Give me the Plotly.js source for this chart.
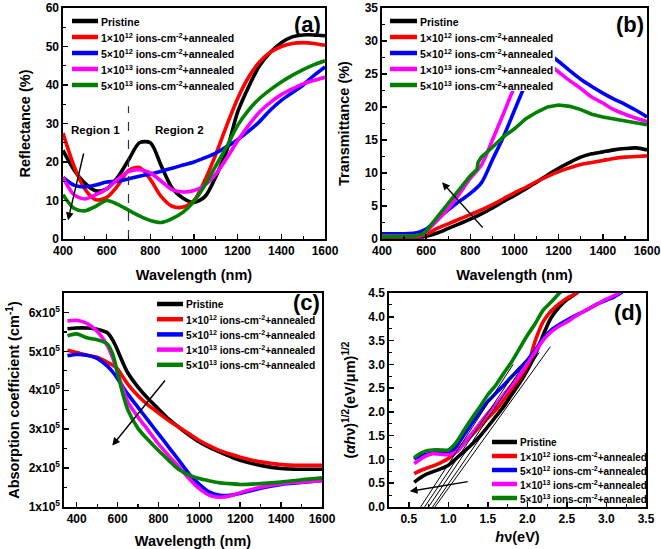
<!DOCTYPE html>
<html>
<head>
<meta charset="utf-8">
<script src="https://cdn.plot.ly/plotly-3.0.1.min.js"></script>
<style>html,body{margin:0;padding:0;background:#fff;}#chart{width:661px;height:549px;}</style>
</head>
<body>
<div id="chart"></div>
<script>
// ---------- shared ----------
const seriesNames = [
  'Pristine',
  '1×10<sup>12</sup> ions-cm<sup>-2</sup>+annealed',
  '5×10<sup>12</sup> ions-cm<sup>-2</sup>+annealed',
  '1×10<sup>13</sup> ions-cm<sup>-2</sup>+annealed',
  '5×10<sup>13</sup> ions-cm<sup>-2</sup>+annealed'
];
const seriesColors = ['#000000', '#ff0000', '#0000ff', '#ff00ff', '#008000'];

// ---------- (a) Reflectance ----------
const wlA = [400,450,500,550,600,650,700,750,800,850,900,950,1000,1050,1100,1150,1200,1250,1300,1350,1400,1450,1500,1550,1600];
const reflPristine = [23,18,14.5,12.5,13,16,20.5,25,25,19,13.2,10.6,9.5,11,16.2,23,33,39.5,45,48.5,51,52.5,53,53,52.8];
const refl1e12 = [27.5,19,13,10.2,10.8,13.8,17.8,18.6,15.5,11,8.5,8.3,10,15.3,22,29.5,36.5,42,46,48.5,50,50.8,51,50.8,50.3];
const refl5e12 = [16,14,13.5,14,14.8,15,15.6,16.3,16.9,17.6,18.4,19.2,20,21.1,22.3,24,25.8,28,30.5,33.5,36,38,40,42.5,44.7];
const refl1e13 = [16,11.5,10.4,11.5,13,15.5,17.5,18,17.2,15,12.8,12.2,12.6,14,16.9,21,25.5,29.5,33,35.5,37.5,39,40.3,41.2,42];
const refl5e13 = [11.5,8,7.3,8.5,10,9,7.5,6,4.8,4.3,5.3,7,9.8,14,19,24,29.5,33.5,36.5,38.8,40.8,42.5,44,45.3,46.3];
const regionBoundaryNm = 700, regionLineTop = 34.5;
const regionLabels = ['Region 1', 'Region 2'];
const regionLabelX = [547, 933], regionLabelY = 28.3;
const arrowA = {tailX: 496, tailY: 22.6, tipX: 423, tipY: 4.9};

// ---------- (b) Transmittance ----------
const wlB = [400,450,500,550,580,600,650,700,750,800,850,900,950,1000,1050,1100,1150,1200,1250,1300,1350,1400,1450,1500,1550,1600];
const transPristine = [0.3,0.3,0.3,0.3,0.3,0.4,0.9,1.6,2.3,3.0,3.8,4.7,5.7,6.6,7.6,8.6,9.7,10.7,11.6,12.4,12.9,13.2,13.5,13.7,13.8,13.5];
const trans1e12 = [0.4,0.4,0.4,0.4,0.5,0.7,1.6,2.3,3.0,3.7,4.4,5.2,6.1,7.0,7.8,8.7,9.5,10.2,10.8,11.3,11.6,11.9,12.2,12.4,12.5,12.6];
const trans5e12 = [0.8,0.8,0.8,0.9,1.2,1.5,3.0,4.4,5.7,6.9,8.5,12,15.5,19.5,23.5,27,28,26.9,25.5,24.2,23.1,22.1,21.2,20.4,19.5,18.5];
const trans1e13 = [0.5,0.5,0.5,0.5,0.6,1.1,2.8,4.6,6.8,9.2,11.2,15,19,23,25.8,27,26.6,25.3,24,22.8,21.5,20.6,19.6,18.9,18.3,17.8];
const wlB5e13 = [400,450,500,550,580,600,650,700,750,800,825,830,835,850,900,950,1000,1050,1100,1150,1200,1250,1300,1350,1400,1450,1500,1550,1600];
const trans5e13 = [0.4,0.4,0.4,0.5,0.7,1.2,3.3,5.4,7.4,9.6,10.4,10.5,11.6,12.4,13.9,15.5,16.7,18.2,19.2,20,20.3,20.1,19.6,18.9,18.5,18.2,17.9,17.6,17.3];
const arrowB = {tailX: 862, tailY: 1.5, tipX: 672, tipY: 8.6};

// ---------- (c) Absorption coefficient ----------
const wlC = [355,400,450,500,550,575,600,625,650,700,750,800,850,900,950,1000,1050,1100,1150,1200,1300,1400,1500,1600];
const absPristine = [5.58e5,5.6e5,5.6e5,5.57e5,5.48e5,5.3e5,5.03e5,4.72e5,4.45e5,4.08e5,3.78e5,3.52e5,3.26e5,3.05e5,2.85e5,2.67e5,2.53e5,2.41e5,2.3e5,2.2e5,2.07e5,1.99e5,1.97e5,1.97e5];
const abs1e12 = [5.03e5,4.97e5,4.9e5,4.85e5,4.72e5,4.65e5,4.55e5,4.35e5,4.16e5,3.86e5,3.62e5,3.42e5,3.22e5,3.05e5,2.88e5,2.71e5,2.57e5,2.45e5,2.36e5,2.28e5,2.16e5,2.09e5,2.07e5,2.07e5];
const abs5e12 = [4.89e5,4.92e5,4.9e5,4.82e5,4.62e5,4.48e5,4.3e5,4.1e5,3.9e5,3.56e5,3.22e5,2.88e5,2.54e5,2.2e5,1.85e5,1.58e5,1.38e5,1.3e5,1.3e5,1.35e5,1.48e5,1.58e5,1.63e5,1.68e5];
const abs1e13 = [5.78e5,5.8e5,5.72e5,5.52e5,5.15e5,4.85e5,4.45e5,4.05e5,3.7e5,3.31e5,2.97e5,2.62e5,2.32e5,2.03e5,1.73e5,1.47e5,1.3e5,1.25e5,1.28e5,1.37e5,1.51e5,1.6e5,1.64e5,1.67e5];
const abs5e13 = [5.4e5,5.45e5,5.35e5,5.3e5,5.19e5,4.95e5,4.45e5,3.92e5,3.5e5,3.02e5,2.72e5,2.45e5,2.2e5,1.96e5,1.82e5,1.73e5,1.67e5,1.62e5,1.6e5,1.58e5,1.6e5,1.64e5,1.7e5,1.75e5];
const absTickVals = [1e5,2e5,3e5,4e5,5e5,6e5];
const absTickText = ['1x10<sup>5</sup>','2x10<sup>5</sup>','3x10<sup>5</sup>','4x10<sup>5</sup>','5x10<sup>5</sup>','6x10<sup>5</sup>'];
const arrowC = {tailX: 838, tailY: 4.29e5, tipX: 574, tipY: 2.58e5};

// ---------- (d) Tauc plot ----------
const hv = [0.57,0.6,0.7,0.8,0.9,1.0,1.1,1.2,1.3,1.4,1.5,1.6,1.7,1.8,1.9,2.0,2.1,2.2,2.3,2.4,2.5,2.6,2.7,2.8,2.9,3.0,3.1,3.2];
const taucPristine = [0.52,0.56,0.67,0.74,0.8,0.88,1.02,1.17,1.32,1.49,1.69,1.9,2.11,2.36,2.6,2.88,3.2,3.62,3.98,4.2,4.36,4.47,4.62,null,null,null,null,null];
const tauc1e12 = [0.7,0.73,0.8,0.86,0.93,1.02,1.17,1.34,1.52,1.69,1.87,2.04,2.25,2.46,2.67,2.95,3.5,3.9,4.12,4.27,4.39,4.48,4.6,null,null,null,null,null];
const tauc5e12 = [1.0,1.04,1.1,1.13,1.15,1.13,1.27,1.52,1.76,2.0,2.22,2.39,2.56,2.74,2.91,3.09,3.3,3.54,3.72,3.83,3.93,4.02,4.1,4.19,4.28,4.35,4.42,4.52];
const tauc1e13 = [0.91,0.95,1.06,1.12,1.11,1.1,1.15,1.34,1.55,1.76,1.97,2.15,2.36,2.56,2.77,3.02,3.26,3.51,3.68,3.8,3.89,4.0,4.1,4.19,4.28,4.37,4.45,4.54];
const tauc5e13 = [1.03,1.08,1.17,1.2,1.2,1.2,1.36,1.62,1.87,2.11,2.36,2.56,2.81,3.05,3.33,3.61,3.86,4.14,4.31,4.49,4.65,null,null,null,null,null,null,null];
// linear-fit tangent lines: x-intercept (band gap) and upper end point
const gapIntercepts = [0.65, 0.70, 0.75, 0.80, 0.83];
const fitEndX = [1.82, 1.85, 2.0, 2.15, 2.29];
const fitEndY = [3.0, 2.85, 3.1, 3.25, 3.37];
const arrowD = {tailX: 1.265, tailY: 0.54, tipX: 0.513, tipY: 0.33};

// ---------- build traces ----------
const traces = [];
function addSeries(xs, ys, i, xa, ya, shape) {
  traces.push({
    x: xs, y: ys, name: seriesNames[i], type: 'scatter', mode: 'lines',
    xaxis: xa, yaxis: ya, showlegend: false,
    line: {color: seriesColors[i], width: 3.6, shape: shape || 'spline', smoothing: 0.8},
    connectgaps: false
  });
}
[reflPristine, refl1e12, refl5e12, refl1e13, refl5e13].forEach((s, i) => addSeries(wlA, s, i, 'x', 'y'));
traces.push({x: [regionBoundaryNm, regionBoundaryNm], y: [0, regionLineTop], mode: 'lines', xaxis: 'x', yaxis: 'y',
  line: {color: '#333', width: 1.2, dash: 'dash'}, showlegend: false, hoverinfo: 'skip'});

[transPristine, trans1e12, trans5e12, trans1e13].forEach((s, i) => addSeries(wlB, s, i, 'x2', 'y2'));
addSeries(wlB5e13, trans5e13, 4, 'x2', 'y2', 'linear');

[absPristine, abs1e12, abs5e12, abs1e13, abs5e13].forEach((s, i) => addSeries(wlC, s, i, 'x3', 'y3'));

[taucPristine, tauc1e12, tauc5e12, tauc1e13, tauc5e13].forEach((s, i) => addSeries(hv, s, i, 'x4', 'y4'));
gapIntercepts.forEach((g, k) => {
  traces.push({x: [g, fitEndX[k]], y: [0, fitEndY[k]], mode: 'lines', xaxis: 'x4', yaxis: 'y4',
    line: {color: '#000', width: 1}, showlegend: false, hoverinfo: 'skip'});
});

// ---------- layout helpers ----------
const W = 661, H = 549;
const FONT = 'Arial, "Liberation Sans", sans-serif';
const px = v => v / W, py = v => 1 - v / H;
function minorSpec(extra) {
  return Object.assign({ticks: 'inside', ticklen: 3, tickwidth: 1.2, tickcolor: '#000', showgrid: false}, extra);
}
function axis(extra) {
  return Object.assign({
    showline: true, linecolor: '#000', linewidth: 1.6, mirror: true,
    ticks: 'inside', ticklen: 5, tickwidth: 1.5, tickcolor: '#000',
    showgrid: false, zeroline: false, automargin: false,
    tickfont: {family: FONT, size: 12, color: '#000', weight: 'bold'}
  }, extra);
}
function ttl(text, standoff) {
  return {text: text, standoff: standoff, font: {family: FONT, size: 14.5, color: '#000', weight: 'bold'}};
}
function arrow(a, xr, yr) {
  return {x: a.tipX, y: a.tipY, ax: a.tailX, ay: a.tailY, xref: xr, yref: yr, axref: xr, ayref: yr,
    text: '', showarrow: true, arrowhead: 2, arrowsize: 1.1, arrowwidth: 1.4, arrowcolor: '#000'};
}
function panelLabel(t, x, y) {
  return {text: t, xref: 'paper', yref: 'paper', x: px(x), y: py(y), xanchor: 'center', yanchor: 'middle', showarrow: false,
    font: {family: FONT, size: 22, color: '#000', weight: 'bold'}};
}

const annotations = [
  arrow(arrowA, 'x', 'y'), arrow(arrowB, 'x2', 'y2'), arrow(arrowC, 'x3', 'y3'), arrow(arrowD, 'x4', 'y4'),
  panelLabel('(a)', 307, 25), panelLabel('(b)', 630, 24), panelLabel('(c)', 306, 303), panelLabel('(d)', 628, 312)
];
regionLabels.forEach((t, k) => annotations.push({text: t, x: regionLabelX[k], y: regionLabelY, xref: 'x', yref: 'y',
  xanchor: 'center', yanchor: 'middle', showarrow: false, font: {family: FONT, size: 11.5, color: '#000', weight: 'bold'}}));

// legends drawn per panel (line sample + label), placement in pixels
const shapes = [];
// white box behind legend (b) hides the curves under it, as in the original
shapes.push({type: 'rect', xref: 'paper', yref: 'paper', x0: px(388), x1: px(555), y0: py(91), y1: py(10),
  fillcolor: '#ffffff', line: {width: 0}, layer: 'above'});
const legendBoxes = [
  {lineX0: 72, lineX1: 98, textX: 100, rowY0: 21, rowGap: 16, size: 10.5},
  {lineX0: 390, lineX1: 417, textX: 419, rowY0: 21, rowGap: 16, size: 10.5},
  {lineX0: 157, lineX1: 183, textX: 185, rowY0: 304, rowGap: 15.2, size: 10.2},
  {lineX0: 492, lineX1: 517, textX: 519, rowY0: 442, rowGap: 14, size: 10}
];
legendBoxes.forEach(b => {
  seriesNames.forEach((name, i) => {
    const yy = b.rowY0 + i * b.rowGap;
    shapes.push({type: 'line', xref: 'paper', yref: 'paper', x0: px(b.lineX0), x1: px(b.lineX1), y0: py(yy), y1: py(yy),
      line: {color: seriesColors[i], width: 4.5}, layer: 'above'});
    annotations.push({text: name, xref: 'paper', yref: 'paper', x: px(b.textX), y: py(yy + 0.5), xanchor: 'left', yanchor: 'middle',
      showarrow: false, borderpad: 0, font: {family: FONT, size: b.size, color: '#000', weight: 'bold'}});
  });
});

const layout = {
  width: W, height: H, margin: {l: 0, r: 0, t: 0, b: 0},
  paper_bgcolor: '#fff', plot_bgcolor: '#fff', showlegend: false,
  font: {family: FONT, color: '#000'},
  xaxis: axis({domain: [px(63), px(325)], range: [400, 1600], dtick: 200, tick0: 400, minor: minorSpec({dtick: 100}), title: ttl('Wavelength (nm)', 13), anchor: 'y'}),
  yaxis: axis({domain: [py(239), py(8)], range: [0, 60], dtick: 10, minor: minorSpec({dtick: 5}), title: ttl('Reflectance (%)', 11), anchor: 'x'}),
  xaxis2: axis({domain: [px(382), px(647)], range: [400, 1600], dtick: 200, tick0: 400, minor: minorSpec({dtick: 100}), title: ttl('Wavelength (nm)', 13), anchor: 'y2'}),
  yaxis2: axis({domain: [py(239), py(8)], range: [0, 35], dtick: 5, minor: minorSpec({dtick: 2.5}), title: ttl('Transmittance (%)', 11), anchor: 'x2'}),
  xaxis3: axis({domain: [px(64), px(322)], range: [338, 1600], tickvals: [400,600,800,1000,1200,1400,1600], minor: minorSpec({tickvals: [500,700,900,1100,1300,1500]}), title: ttl('Wavelength (nm)', 13), anchor: 'y3'}),
  yaxis3: axis({domain: [py(507), py(293)], range: [1e5, 6.5e5], tickvals: absTickVals, ticktext: absTickText, minor: minorSpec({tickvals: [1.5e5,2.5e5,3.5e5,4.5e5,5.5e5]}), title: ttl('Absorption coefficient (cm<sup>-1</sup>)', 5), anchor: 'x3'}),
  xaxis4: axis({domain: [px(389), px(646)], range: [0.25, 3.5], dtick: 0.5, tick0: 0.5, tickformat: '.1f', minor: minorSpec({dtick: 0.25, tick0: 0.25}), title: ttl('<i>h</i>ν(eV)', 7), anchor: 'y4'}),
  yaxis4: axis({domain: [py(507), py(293)], range: [0, 4.5], dtick: 0.5, tickformat: '.1f', minor: minorSpec({dtick: 0.25}), title: ttl('(<i>αh</i>ν)<sup>1/2</sup>(eV/μm)<sup>1/2</sup>', 9), anchor: 'x4'}),
  shapes: shapes,
  annotations: annotations
};

Plotly.newPlot('chart', traces, layout, {staticPlot: true, displayModeBar: false});
</script>
</body>
</html>
